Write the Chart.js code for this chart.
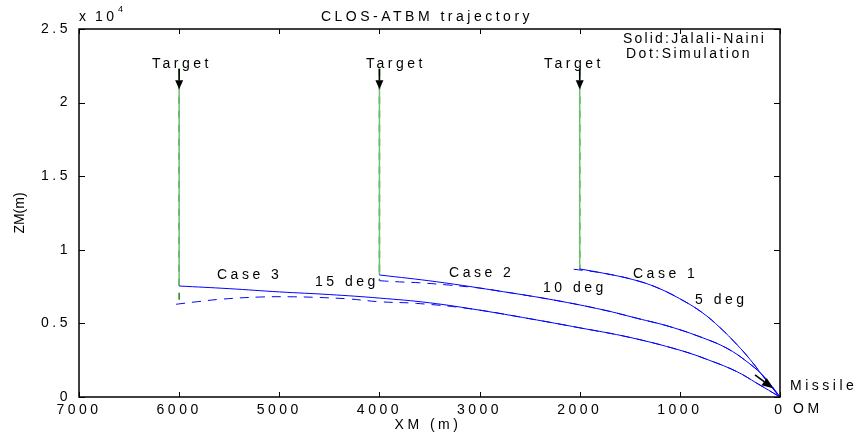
<!DOCTYPE html>
<html><head><meta charset="utf-8">
<script src="https://cdn.jsdelivr.net/npm/chart.js@4.4.0/dist/chart.umd.min.js"></script>
<style>html,body{margin:0;padding:0;background:#fff;} #wrap{width:857px;height:442px;position:relative;}</style>
</head><body><div id="wrap"><canvas id="c"></canvas></div>
<script>
// ---- data (metres) ----
const xTicks = [7000, 6000, 5000, 4000, 3000, 2000, 1000, 0];
const yTicks = [0, 5000, 10000, 15000, 20000, 25000];

// Solid: Jalali-Naini trajectories
const case1X = [2000, 1770, 1470, 1230, 970, 770, 600, 430, 300, 170, 70, 0];
const case1Z = [8700, 8420, 7980, 7440, 6560, 5700, 4720, 3560, 2560, 1420, 560, 0];
const case2X = [4000, 3430, 2760, 2260, 1760, 1430, 1100, 760, 530, 330, 160, 0];
const case2Z = [8290, 7830, 7150, 6590, 5910, 5350, 4780, 3990, 3310, 2400, 1380, 0];
const case3X = [6000, 5500, 5000, 4500, 4000, 3500, 3000, 2500, 2000, 1500, 1000, 700, 430, 230, 0];
const case3Z = [7540, 7360, 7140, 6960, 6720, 6400, 5900, 5320, 4700, 4050, 3180, 2480, 1720, 930, 0];

// Dot: Simulation trajectories
const sim1X = [2060, 1770, 1470, 1230, 970, 770, 600, 430, 300, 170, 70, 0];
const sim1Z = [8680, 8420, 7980, 7440, 6560, 5700, 4720, 3560, 2560, 1420, 560, 0];
const sim2X = [4000, 3800, 3600, 3300, 3000, 2760, 2260, 1760, 1430, 1100, 760, 530, 330, 160, 0];
const sim2Z = [7900, 7820, 7760, 7600, 7400, 7150, 6590, 5910, 5350, 4780, 3990, 3310, 2400, 1380, 0];
const sim3X = [6030, 5850, 5570, 5200, 4900, 4600, 4300, 4000, 3630, 3100, 2500, 2000, 1500, 1000, 700, 430, 230, 0];
const sim3Z = [6300, 6450, 6650, 6790, 6810, 6760, 6660, 6470, 6360, 6000, 5320, 4700, 4050, 3180, 2480, 1720, 930, 0];

// Targets
const targetX = [6000, 4000, 2000];
const targetTopZ = 22300;
const targetArrowTipZ = 20900;
const targetSolidEndZ = [7540, 8290, 8700];
const targetSimEndZ = [6300, 7900, 8660];
// Missile arrow (data coords)
const missileArrowX = [250, 70];
const missileArrowZ = [1500, 600];

// Annotation labels (anchor in data coords, left/baseline)
const labelText = ["Target", "Target", "Target", "Solid:Jalali-Naini", "Dot:Simulation",
  "Case 3", "15 deg", "Case 2", "10 deg", "Case 1", "5 deg", "Missile", "OM"];
const labelX = [6271, 4134, 2357, 1568, 1538, 5622, 4643, 3305, 2367, 1468, 849, -100, -130];
const labelZ = [22350, 22350, 22350, 24047, 23028, 8016, 7540, 8152, 7133, 8084, 6318, 475, -1087];

const FONT = '"Liberation Sans", Arial, Helvetica, sans-serif';
const LS = '3.5px';
const labelSpacing = {"Solid:Jalali-Naini": '2.2px', "Dot:Simulation": '2.5px'};

function pts(xs, zs) { return xs.map((x, i) => ({x: x, y: zs[i]})); }
function curve(xs, zs, dashed) {
  return {data: pts(xs, zs), showLine: true, pointRadius: 0, borderColor: '#0000ff',
    borderWidth: 1, borderDash: dashed ? [9, 7] : [], tension: 0.4, fill: false};
}
const datasets = [];
[[case1X, case1Z], [case2X, case2Z], [case3X, case3Z]].forEach(c => datasets.push(curve(c[0], c[1], false)));
[[sim1X, sim1Z], [sim2X, sim2Z], [sim3X, sim3Z]].forEach(c => datasets.push(curve(c[0], c[1], true)));
targetX.forEach((x, i) => {
  datasets.push({data: pts([x, x], [targetTopZ, targetSolidEndZ[i]]), showLine: true, pointRadius: 0,
    borderColor: 'rgb(110,190,110)', borderWidth: 1.5, tension: 0});
  datasets.push({data: pts([x, x], [targetTopZ, targetSimEndZ[i]]), showLine: true, pointRadius: 0,
    borderColor: 'rgb(30,130,30)', borderWidth: 1.5, borderDash: [7, 7], tension: 0});
});

function arrow(ctx, x1, y1, x2, y2, len, wid) {
  const a = Math.atan2(y2 - y1, x2 - x1);
  const bx = x2 - len * Math.cos(a), by = y2 - len * Math.sin(a);
  ctx.beginPath(); ctx.moveTo(x1, y1); ctx.lineTo(bx, by); ctx.stroke();
  ctx.beginPath(); ctx.moveTo(x2, y2);
  ctx.lineTo(bx + wid / 2 * Math.sin(a), by - wid / 2 * Math.cos(a));
  ctx.lineTo(bx - wid / 2 * Math.sin(a), by + wid / 2 * Math.cos(a));
  ctx.closePath(); ctx.fill();
}

const deco = {
  id: 'deco',
  beforeUpdate(chart) { chart.ctx.letterSpacing = LS; },
  beforeDraw(chart) { chart.ctx.letterSpacing = LS; },
  afterDraw(chart) {
    const ctx = chart.ctx, a = chart.chartArea, xs = chart.scales.x, ys = chart.scales.y;
    ctx.save();
    // arrows
    ctx.strokeStyle = '#000'; ctx.fillStyle = '#000'; ctx.lineWidth = 1.5;
    targetX.forEach(x => {
      const px = xs.getPixelForValue(x);
      arrow(ctx, px, ys.getPixelForValue(targetTopZ), px, ys.getPixelForValue(targetArrowTipZ), 9, 8);
    });
    arrow(ctx, xs.getPixelForValue(missileArrowX[0]), ys.getPixelForValue(missileArrowZ[0]),
      xs.getPixelForValue(missileArrowX[1]), ys.getPixelForValue(missileArrowZ[1]), 11, 9);
    // box
    ctx.lineWidth = 1.5; ctx.strokeStyle = '#000';
    ctx.strokeRect(a.left, a.top, a.right - a.left, a.bottom - a.top);
    ctx.lineWidth = 1;
    ctx.beginPath();
    xTicks.forEach(v => {
      const p = Math.round(xs.getPixelForValue(v)) + 0.5;
      ctx.moveTo(p, a.bottom); ctx.lineTo(p, a.bottom - 5);
      ctx.moveTo(p, a.top); ctx.lineTo(p, a.top + 5);
    });
    yTicks.forEach(v => {
      const p = Math.round(ys.getPixelForValue(v)) + 0.5;
      ctx.moveTo(a.left, p); ctx.lineTo(a.left + 6, p);
      ctx.moveTo(a.right, p); ctx.lineTo(a.right - 6, p);
    });
    ctx.stroke();
    // texts
    ctx.fillStyle = '#000';
    ctx.font = '14px ' + FONT;
    ctx.textBaseline = 'alphabetic'; ctx.textAlign = 'left';
    labelText.forEach((t, i) => {
      ctx.letterSpacing = labelSpacing[t] || LS;
      ctx.fillText(t, xs.getPixelForValue(labelX[i]), ys.getPixelForValue(labelZ[i]));
    });
    ctx.letterSpacing = LS;
    // title
    ctx.textAlign = 'center';
    ctx.fillText('CLOS-ATBM trajectory', 427, 21);
    ctx.fillText('XM (m)', 428, 429);
    // exponent
    ctx.textAlign = 'left';
    ctx.fillText('x', 79, 21);
    ctx.fillText('10', 95, 21);
    ctx.font = '9px ' + FONT; ctx.letterSpacing = '0px';
    ctx.fillText('4', 118, 12);
    // y title
    ctx.font = '14px ' + FONT; ctx.letterSpacing = '0px';
    ctx.translate(24, 213); ctx.rotate(-Math.PI / 2); ctx.textAlign = 'center';
    ctx.fillText('ZM(m)', 0, 0);
    ctx.restore();
  }
};

new Chart(document.getElementById('c'), {
  type: 'scatter',
  data: {datasets: datasets},
  options: {
    responsive: true, maintainAspectRatio: false, animation: false, devicePixelRatio: 1,
    layout: {padding: {left: 0, right: 77, top: 29, bottom: 0}},
    plugins: {legend: {display: false}, tooltip: {enabled: false}, title: {display: false}},
    scales: {
      x: {type: 'linear', reverse: true, min: 0, max: 7000,
        afterBuildTicks: s => { s.ticks = xTicks.map(v => ({value: v})); },
        afterFit: s => { s.height = 45; },
        grid: {display: false, drawTicks: false}, border: {display: false},
        ticks: {color: '#000', font: {family: FONT, size: 14}, padding: 5, maxRotation: 0, autoSkip: false,
          callback: v => String(v)}},
      y: {type: 'linear', min: 0, max: 25000,
        afterBuildTicks: s => { s.ticks = yTicks.map(v => ({value: v})); },
        afterFit: s => { s.width = 79; },
        grid: {display: false, drawTicks: false}, border: {display: false},
        ticks: {color: '#000', font: {family: FONT, size: 14}, padding: 8, autoSkip: false,
          callback: v => String(v / 10000)}}
    }
  },
  plugins: [deco]
});
</script></body></html>
